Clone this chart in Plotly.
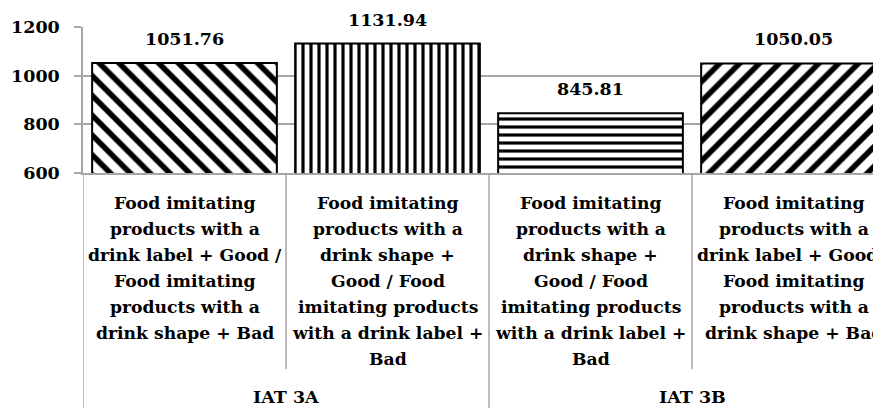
import plotly.graph_objects as go

# ---- data ----
categories = [0, 1, 2, 3]
values = [1051.76, 1131.94, 845.81, 1050.05]
value_labels = ["1051.76", "1131.94", "845.81", "1050.05"]
category_lines = [
    ["Food imitating", "products with a", "drink label + Good /", "Food imitating",
     "products with a", "drink shape + Bad"],
    ["Food imitating", "products with a", "drink shape +", "Good / Food",
     "imitating products", "with a drink label +", "Bad"],
    ["Food imitating", "products with a", "drink shape +", "Good / Food",
     "imitating products", "with a drink label +", "Bad"],
    ["Food imitating", "products with a", "drink label + Good /", "Food imitating",
     "products with a", "drink shape + Bad"],
]
groups = ["IAT 3A", "IAT 3B"]
group_centers = [0.5, 2.5]
patterns = ["\\", "|", "-", "/"]
pattern_sizes = [14, 8, 8, 14]
y_ticks = [600, 800, 1000, 1200]

# ---- layout constants (page has an 8px body margin) ----
OFF = 8
W, H = 881 - OFF, 408 - OFF
ML, MT = 83 - OFF, 27 - OFF
PLOT_BOTTOM = 173 - OFF
MB = H - PLOT_BOTTOM
PLOT_H = PLOT_BOTTOM - MT
SLOT = 203.0
FONT = dict(family="DejaVu Serif", size=17.5, color="black", weight=700)
CAT_FONT = dict(family="DejaVu Serif", size=17.2, color="black", weight=700)
GRID = "#a6a6a6"

fig = go.Figure()
fig.add_trace(go.Bar(
    x=categories, y=values, width=0.91,
    marker=dict(color="white", line=dict(color="black", width=2),
                pattern=dict(shape=patterns, size=pattern_sizes, solidity=0.4,
                             fgcolor="black", bgcolor="white", fillmode="replace")),
    cliponaxis=False,
))

# value labels
for xv, yv, t in zip(categories, values, value_labels):
    fig.add_annotation(x=xv, y=yv, text=t, showarrow=False, yanchor="bottom",
                       yshift=12, font=FONT)

# category labels
for xv, lines in zip(categories, category_lines):
    for i, ln in enumerate(lines):
        fig.add_annotation(x=xv, y=0, yref="paper", text=ln, showarrow=False,
                           yanchor="middle", yshift=-30 - 26 * i, font=CAT_FONT)
for gx, g in zip(group_centers, groups):
    fig.add_annotation(x=gx, y=0, yref="paper", text=g, showarrow=False,
                       yanchor="middle", yshift=-224, font=FONT)

# dividers
def px2paper(p):
    return -p / PLOT_H

for xv in [0.5, 2.5]:
    fig.add_shape(type="line", xref="x", yref="paper", x0=xv, x1=xv,
                  y0=0, y1=px2paper(196), line=dict(color=GRID, width=1.5))
for xv in [-0.5, 1.5]:
    fig.add_shape(type="line", xref="x", yref="paper", x0=xv, x1=xv,
                  y0=0, y1=px2paper(MB + 5), line=dict(color=GRID, width=1.5))

x_range_max = -0.5 + (W - ML) / SLOT
fig.update_layout(
    width=W, height=H, margin=dict(l=ML, r=0, t=MT, b=MB),
    plot_bgcolor="white", paper_bgcolor="white", showlegend=False,
    xaxis=dict(range=[-0.5, x_range_max], showticklabels=False, ticks="",
               showgrid=False, zeroline=False, showline=True, linecolor=GRID,
               linewidth=1.5),
    yaxis=dict(range=[600, 1200], tickvals=y_ticks, showgrid=True, gridcolor=GRID,
               gridwidth=1.5, zeroline=False, showline=True, linecolor=GRID,
               linewidth=1.5, ticks="outside", ticklen=7, tickcolor=GRID,
               tickwidth=1.5, tickfont=FONT, ticklabelstandoff=11),
)
fig.write_html("out.html")
